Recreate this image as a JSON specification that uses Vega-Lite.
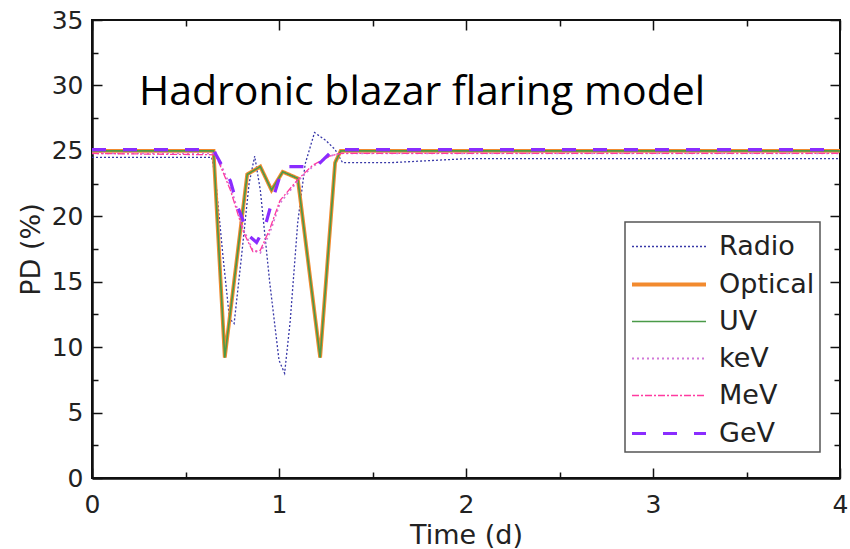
{
  "$schema": "https://vega.github.io/schema/vega-lite/v6.json",
  "width": 748,
  "height": 458,
  "autosize": {"type": "none"},
  "padding": {"left": 92, "top": 20, "right": 10, "bottom": 71},
  "background": "white",
  "config": {
    "view": {"stroke": "#111", "strokeWidth": 2},
    "axis": {
      "domainColor": "#111", "domainWidth": 2.5, "tickColor": "#111", "tickWidth": 1.5,
      "labelFont": "DejaVu Sans", "labelFontSize": 25, "labelColor": "#222", "labelFlush": false,
      "titleFont": "DejaVu Sans", "titleFontSize": 27, "titleFontWeight": "normal", "titleColor": "#222",
      "grid": false
    },
    "legend": {
      "labelFont": "DejaVu Sans", "labelFontSize": 27, "labelColor": "#222"
    }
  },
  "resolve": {"axis": {"x": "independent", "y": "independent"}},
  "layer": [
    {
      "data": {"values": [
        {"s": "Radio", "t": 0, "pd": 24.5}, {"s": "Radio", "t": 0.64, "pd": 24.5}, {"s": "Radio", "t": 0.66, "pd": 23}, {"s": "Radio", "t": 0.7, "pd": 17}, {"s": "Radio", "t": 0.735, "pd": 12.2}, {"s": "Radio", "t": 0.76, "pd": 11.8}, {"s": "Radio", "t": 0.8, "pd": 17}, {"s": "Radio", "t": 0.84, "pd": 22.5}, {"s": "Radio", "t": 0.87, "pd": 24.6}, {"s": "Radio", "t": 0.9, "pd": 22}, {"s": "Radio", "t": 0.95, "pd": 15}, {"s": "Radio", "t": 1.0, "pd": 9}, {"s": "Radio", "t": 1.03, "pd": 8.0}, {"s": "Radio", "t": 1.06, "pd": 12}, {"s": "Radio", "t": 1.1, "pd": 19.5}, {"s": "Radio", "t": 1.14, "pd": 24}, {"s": "Radio", "t": 1.19, "pd": 26.4}, {"s": "Radio", "t": 1.25, "pd": 25.8}, {"s": "Radio", "t": 1.3, "pd": 25.1}, {"s": "Radio", "t": 1.34, "pd": 24.1}, {"s": "Radio", "t": 1.6, "pd": 24.1}, {"s": "Radio", "t": 2.0, "pd": 24.4}, {"s": "Radio", "t": 4, "pd": 24.4},
        {"s": "Optical", "t": 0, "pd": 25}, {"s": "Optical", "t": 0.65, "pd": 25}, {"s": "Optical", "t": 0.71, "pd": 9.2}, {"s": "Optical", "t": 0.83, "pd": 23.2}, {"s": "Optical", "t": 0.9, "pd": 23.8}, {"s": "Optical", "t": 0.96, "pd": 22.0}, {"s": "Optical", "t": 1.02, "pd": 23.4}, {"s": "Optical", "t": 1.1, "pd": 22.9}, {"s": "Optical", "t": 1.22, "pd": 9.2}, {"s": "Optical", "t": 1.3, "pd": 24.1}, {"s": "Optical", "t": 1.33, "pd": 25}, {"s": "Optical", "t": 4, "pd": 25},
        {"s": "UV", "t": 0, "pd": 25}, {"s": "UV", "t": 0.65, "pd": 25}, {"s": "UV", "t": 0.71, "pd": 9.2}, {"s": "UV", "t": 0.83, "pd": 23.2}, {"s": "UV", "t": 0.9, "pd": 23.8}, {"s": "UV", "t": 0.96, "pd": 22.0}, {"s": "UV", "t": 1.02, "pd": 23.4}, {"s": "UV", "t": 1.1, "pd": 22.9}, {"s": "UV", "t": 1.22, "pd": 9.2}, {"s": "UV", "t": 1.3, "pd": 24.1}, {"s": "UV", "t": 1.33, "pd": 25}, {"s": "UV", "t": 4, "pd": 25},
        {"s": "keV", "t": 0, "pd": 24.8}, {"s": "keV", "t": 0.66, "pd": 24.8}, {"s": "keV", "t": 0.7, "pd": 23.6}, {"s": "keV", "t": 0.74, "pd": 22.3}, {"s": "keV", "t": 0.81, "pd": 19.0}, {"s": "keV", "t": 0.86, "pd": 17.4}, {"s": "keV", "t": 0.9, "pd": 17.2}, {"s": "keV", "t": 0.95, "pd": 18.7}, {"s": "keV", "t": 1.005, "pd": 21.0}, {"s": "keV", "t": 1.1, "pd": 22.7}, {"s": "keV", "t": 1.18, "pd": 23.8}, {"s": "keV", "t": 1.27, "pd": 24.6}, {"s": "keV", "t": 1.33, "pd": 24.8}, {"s": "keV", "t": 4, "pd": 24.8},
        {"s": "MeV", "t": 0, "pd": 24.8}, {"s": "MeV", "t": 0.66, "pd": 24.7}, {"s": "MeV", "t": 0.7, "pd": 23.4}, {"s": "MeV", "t": 0.74, "pd": 22.0}, {"s": "MeV", "t": 0.81, "pd": 18.8}, {"s": "MeV", "t": 0.86, "pd": 17.3}, {"s": "MeV", "t": 0.9, "pd": 17.4}, {"s": "MeV", "t": 0.95, "pd": 19.0}, {"s": "MeV", "t": 1.005, "pd": 21.2}, {"s": "MeV", "t": 1.1, "pd": 22.8}, {"s": "MeV", "t": 1.18, "pd": 23.9}, {"s": "MeV", "t": 1.27, "pd": 24.6}, {"s": "MeV", "t": 1.33, "pd": 24.8}, {"s": "MeV", "t": 4, "pd": 24.8},
        {"s": "GeV", "t": 0, "pd": 25.1}, {"s": "GeV", "t": 0.65, "pd": 25.1}, {"s": "GeV", "t": 0.667, "pd": 24.6}, {"s": "GeV", "t": 0.74, "pd": 22.7}, {"s": "GeV", "t": 0.78, "pd": 20.7}, {"s": "GeV", "t": 0.84, "pd": 18.5}, {"s": "GeV", "t": 0.88, "pd": 18.0}, {"s": "GeV", "t": 0.925, "pd": 19.2}, {"s": "GeV", "t": 0.96, "pd": 21.0}, {"s": "GeV", "t": 1.01, "pd": 23.3}, {"s": "GeV", "t": 1.05, "pd": 23.8}, {"s": "GeV", "t": 1.2, "pd": 23.8}, {"s": "GeV", "t": 1.27, "pd": 24.8}, {"s": "GeV", "t": 1.31, "pd": 25.1}, {"s": "GeV", "t": 4, "pd": 25.1}
      ]},
      "mark": {"type": "line", "clip": true},
      "encoding": {
        "x": {"field": "t", "type": "quantitative", "scale": {"domain": [0, 4], "nice": false},
          "axis": {"orient": "bottom", "values": [0, 1, 2, 3, 4], "tickSize": -10, "labelPadding": 24, "title": "Time (d)", "titlePadding": 5}},
        "y": {"field": "pd", "type": "quantitative", "scale": {"domain": [0, 35], "nice": false},
          "axis": {"orient": "left", "values": [0, 5, 10, 15, 20, 25, 30, 35], "tickSize": -10, "labelPadding": 19, "title": "PD (%)", "titlePadding": 6}},
        "color": {"field": "s", "type": "nominal",
          "scale": {"domain": ["Radio", "Optical", "UV", "keV", "MeV", "GeV"], "range": ["#3838a8", "#f28a2e", "#4a9a48", "#d27ad8", "#ff3aa0", "#8a2cff"]},
          "legend": {"title": null, "orient": "none", "legendX": 533, "legendY": 202, "strokeColor": "#555", "padding": 5, "symbolType": "M-1,0H3", "symbolSize": 1369, "rowPadding": 4, "labelOffset": 48, "fillColor": "white",
            "encode": {"legend": {"update": {"strokeWidth": {"value": 1.5}}}}}},
        "strokeDash": {"field": "s", "type": "nominal",
          "scale": {"domain": ["Radio", "Optical", "UV", "keV", "MeV", "GeV"], "range": [[2, 2], [1, 0], [1, 0], [2, 3], [7, 2, 2, 2], [14, 17]]},
          "legend": {"title": null}},
        "strokeWidth": {"field": "s", "type": "nominal",
          "scale": {"type": "ordinal", "domain": ["Radio", "Optical", "UV", "keV", "MeV", "GeV"], "range": [1.3, 3.8, 1.6, 1.8, 1.3, 3.2]},
          "legend": {"title": null}},
        "order": {"field": "t", "type": "quantitative"}
      }
    },
    {
      "data": {"values": [{"label": "Hadronic blazar flaring model"}]},
      "mark": {"type": "text", "font": "Open Sans", "fontSize": 41, "color": "black", "align": "center", "baseline": "alphabetic"},
      "encoding": {
        "text": {"field": "label"},
        "x": {"datum": 1.765, "type": "quantitative", "scale": {"domain": [0, 4], "nice": false},
          "axis": {"orient": "bottom", "values": [0.5, 1.5, 2.5, 3.5], "tickSize": -6, "labels": false, "domain": false, "title": null}},
        "y": {"datum": 28.5, "type": "quantitative", "scale": {"domain": [0, 35], "nice": false},
          "axis": {"orient": "left", "values": [2.5, 7.5, 12.5, 17.5, 22.5, 27.5, 32.5], "tickSize": -6, "labels": false, "domain": false, "title": null}}
      }
    },
    {
      "data": {"values": [{"label": ""}]},
      "mark": {"type": "text", "opacity": 0},
      "encoding": {
        "text": {"field": "label"},
        "x": {"datum": 2, "type": "quantitative", "scale": {"domain": [0, 4], "nice": false},
          "axis": {"orient": "top", "values": [0, 1, 2, 3, 4], "tickSize": -10, "labels": false, "domain": false, "title": null}},
        "y": {"datum": 20, "type": "quantitative", "scale": {"domain": [0, 35], "nice": false},
          "axis": {"orient": "right", "values": [0, 5, 10, 15, 20, 25, 30, 35], "tickSize": -10, "labels": false, "domain": false, "title": null}}
      }
    },
    {
      "data": {"values": [{"label": ""}]},
      "mark": {"type": "text", "opacity": 0},
      "encoding": {
        "text": {"field": "label"},
        "x": {"datum": 2, "type": "quantitative", "scale": {"domain": [0, 4], "nice": false},
          "axis": {"orient": "top", "values": [0.5, 1.5, 2.5, 3.5], "tickSize": -6, "labels": false, "domain": false, "title": null}},
        "y": {"datum": 20, "type": "quantitative", "scale": {"domain": [0, 35], "nice": false},
          "axis": {"orient": "right", "values": [2.5, 7.5, 12.5, 17.5, 22.5, 27.5, 32.5], "tickSize": -6, "labels": false, "domain": false, "title": null}}
      }
    }
  ]
}
